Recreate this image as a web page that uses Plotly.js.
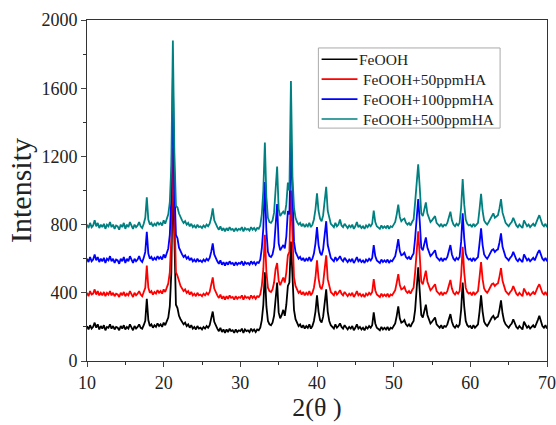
<!DOCTYPE html>
<html><head><meta charset="utf-8">
<script src="https://cdn.plot.ly/plotly-3.0.1.min.js"></script>
<style>html,body{margin:0;padding:0;background:#fff}#chart{width:556px;height:425px}</style>
</head><body><div id="chart"></div>
<script>
// 2θ grid: 10.0 to 70.0 in 0.2° steps
const xStart = 10, xStep = 0.2;
const seriesNames = ["FeOOH", "FeOOH+50ppmHA", "FeOOH+100ppmHA", "FeOOH+500ppmHA"];
const seriesColors = ["#000000", "#ff0000", "#0000ff", "#008080"];

const feooh = [
205,185,210,190,200, 225,195,215,185,205, 190,210,180,200,195, 215,190,205,185,200,
195,180,205,190,210, 185,200,190,215,195, 180,205,190,200,215, 195,190,210,235,365,
240,205,215,195,210, 200,220,205,215,200, 225,210,235,255,320, 520,1100,620,330,310,
265,245,230,215,225, 205,215,195,210,190, 200,185,205,190,195, 185,200,190,205,195,
210,245,290,230,205, 190,175,195,170,185, 165,185,170,190,175, 180,165,185,170,180,
175,190,165,185,175, 180,170,190,175,185, 170,185,180,195,240, 330,520,320,235,215,
210,225,265,350,460, 285,250,270,300,265, 330,440,460,700,480, 300,245,220,205,215,
195,210,190,205,195, 215,190,205,235,290, 385,290,240,225,260, 340,420,290,235,210,
200,190,215,195,205, 220,200,190,210,195, 185,200,190,205,180, 195,215,190,200,185,
195,180,200,190,205, 195,210,285,220,195, 190,180,200,185,195, 185,200,180,195,190,
205,220,265,320,250, 225,230,240,215,205, 215,200,220,235,300, 420,550,410,270,255,
290,330,270,240,220, 230,245,255,215,205, 195,210,190,205,200, 215,245,275,230,205,
195,210,200,215,300, 460,320,235,210,200, 205,190,210,195,205, 215,290,385,290,230,
215,205,220,240,255, 265,245,255,260,300, 355,280,235,215,205, 195,210,220,245,220,
200,190,205,195,185, 230,210,195,205,190, 200,210,195,225,240, 265,230,205,195,210,
190];

const feooh50 = [
400,380,410,390,395, 420,390,410,385,400, 385,405,380,400,390, 410,385,400,380,395,
390,375,400,385,405, 380,395,385,410,390, 375,400,385,395,410, 390,380,405,430,560,
430,400,410,390,405, 395,415,400,410,395, 420,405,430,455,520, 720,1250,800,520,500,
460,440,425,410,420, 400,410,390,405,385, 395,380,400,385,390, 380,395,385,400,390,
405,440,490,425,400, 385,370,390,365,380, 360,380,365,385,370, 375,360,380,365,375,
370,385,360,380,370, 375,365,385,370,380, 365,380,375,390,440, 540,740,520,430,410,
405,420,460,540,575, 470,445,465,490,460, 520,620,640,1000,680, 490,440,415,400,410,
390,405,385,400,390, 410,385,400,430,490, 590,485,435,420,455, 540,620,480,430,405,
395,385,410,390,400, 415,395,385,405,390, 380,395,385,400,375, 390,410,385,395,380,
390,375,395,385,400, 390,405,480,415,390, 385,375,395,380,390, 380,395,375,390,385,
400,415,460,510,445, 420,425,435,410,400, 410,395,415,430,520, 640,760,620,465,450,
490,530,465,435,415, 425,440,450,410,400, 390,405,385,400,395, 410,440,475,425,400,
390,405,395,410,500, 670,520,430,405,395, 400,385,405,390,400, 410,490,580,480,425,
410,400,415,435,450, 455,440,450,455,495, 545,470,430,410,400, 390,405,415,440,415,
395,385,400,390,380, 425,405,390,400,385, 395,405,390,420,435, 450,425,400,390,405,
385];

const feooh100 = [
600,580,610,585,595, 625,590,610,580,600, 585,605,575,600,590, 615,585,600,575,595,
590,570,600,585,610, 575,600,585,615,590, 575,600,585,595,615, 590,580,605,640,758,
630,600,610,590,605, 595,615,600,610,595, 625,605,635,660,740, 960,1660,1020,740,720,
665,640,625,610,620, 600,610,590,605,585, 595,580,600,585,590, 580,595,585,600,590,
605,640,690,625,600, 585,570,590,565,580, 560,580,565,585,570, 575,560,580,565,575,
570,585,560,580,570, 575,565,585,570,580, 565,580,575,595,660, 780,1050,760,640,615,
610,625,670,780,920, 690,650,665,680,660, 730,880,860,1280,900, 700,640,615,600,610,
590,605,585,600,590, 610,585,600,630,690, 785,680,635,620,655, 740,820,680,630,605,
595,585,610,590,600, 615,595,585,605,590, 580,595,585,600,575, 590,610,585,595,580,
590,575,595,585,600, 590,605,680,615,590, 585,575,595,580,590, 580,595,575,590,585,
600,615,660,715,645, 620,625,635,610,600, 610,595,615,630,720, 840,950,820,665,650,
690,725,665,635,615, 625,640,650,610,600, 590,605,585,600,595, 610,640,680,625,600,
590,605,595,610,700, 866,720,630,605,595, 600,585,605,590,600, 610,690,778,680,625,
610,600,615,635,650, 655,640,650,655,695, 749,670,630,610,600, 590,605,615,640,615,
595,585,600,590,580, 625,605,590,600,585, 595,605,590,620,635, 650,625,600,590,605,
585];

const feooh500 = [
800,780,810,785,795, 825,790,810,780,800, 785,805,775,800,790, 815,785,800,775,795,
790,770,800,785,810, 775,800,785,815,790, 775,800,785,795,815, 790,780,805,840,960,
830,800,810,790,805, 795,815,800,810,795, 825,805,835,860,930, 1150,1880,1220,910,900,
865,840,825,810,820, 800,810,790,805,785, 795,780,800,785,790, 780,795,785,800,790,
805,840,895,825,800, 785,770,790,765,780, 760,780,765,785,770, 775,760,780,765,775,
770,785,760,780,770, 775,765,785,770,780, 765,780,775,795,860, 1000,1282,960,840,815,
810,825,870,980,1140, 890,850,865,876,860, 920,1046,1000,1642,1080, 900,840,815,800,810,
790,805,785,800,790, 810,785,800,830,890, 983,880,835,820,855, 940,1022,880,830,805,
795,785,810,790,800, 830,795,785,805,790, 780,795,785,800,775, 790,815,785,795,780,
790,775,795,785,800, 790,805,882,815,790, 785,775,795,780,790, 780,795,775,790,785,
800,815,860,917,845, 820,830,835,810,800, 810,795,815,830,930, 1060,1153,1020,865,850,
890,930,865,835,815, 825,840,850,810,800, 790,805,785,800,795, 810,840,876,825,800,
790,805,795,810,900, 1067,920,830,805,795, 800,785,805,790,800, 810,890,980,880,825,
810,800,815,835,850, 866,840,850,855,895, 950,870,830,810,800, 790,805,815,840,815,
795,785,800,790,780, 825,805,790,800,785, 795,805,790,820,835, 855,825,800,790,805,
785];

const xTickVals = [10, 20, 30, 40, 50, 60, 70];
const yTickVals = [0, 400, 800, 1200, 1600, 2000];

const allY = [feooh, feooh50, feooh100, feooh500];
const traces = allY.map((ys, k) => ({
  type: "scatter", mode: "lines",
  x: ys.map((_, i) => +(xStart + i * xStep).toFixed(1)),
  y: ys, name: seriesNames[k], showlegend: false,
  line: {color: seriesColors[k], width: 1.8}
}));

const serif = "Times New Roman, Liberation Serif, serif";
// hand-built legend (box, sample lines, labels) in paper coordinates
const lg = {x0: 0.503, x1: 0.898, y0: 0.683, y1: 0.918, lineX0: 0.510, lineX1: 0.588, textX: 0.595, rowTop: 0.885, rowStep: 0.0585};
const shapes = [{type: "rect", xref: "paper", yref: "paper", x0: lg.x0, x1: lg.x1, y0: lg.y0, y1: lg.y1,
  line: {color: "#aaa", width: 1}, fillcolor: "rgba(0,0,0,0)"}];
const annotations = [];
seriesNames.forEach((nm, k) => {
  const yy = lg.rowTop - k * lg.rowStep;
  shapes.push({type: "line", xref: "paper", yref: "paper", x0: lg.lineX0, x1: lg.lineX1, y0: yy, y1: yy,
    line: {color: seriesColors[k], width: 1.6}});
  annotations.push({xref: "paper", yref: "paper", x: k === 0 ? lg.textX - 0.008 : lg.textX, y: yy,
    xanchor: "left", yanchor: "middle", showarrow: false, text: nm,
    font: {family: serif, size: 15.5, color: "#222"}});
});

const layout = {
  width: 556, height: 425,
  margin: {l: 87, r: 9, t: 20, b: 64},
  font: {family: serif, color: "#222"},
  paper_bgcolor: "#fff", plot_bgcolor: "#fff",
  showlegend: false, shapes: shapes, annotations: annotations,
  xaxis: {range: [10, 70], tickvals: xTickVals, ticks: "outside", ticklen: 5,
    minor: {dtick: 5, ticks: "outside", ticklen: 3, tickcolor: "#333"},
    showline: true, linecolor: "#333", linewidth: 1, mirror: true, showgrid: false, zeroline: false,
    tickfont: {family: serif, size: 18, color: "#222"},
    title: {text: "2(θ )", font: {family: serif, size: 26, color: "#222"}, standoff: 3}},
  yaxis: {range: [0, 2000], tickvals: yTickVals, ticks: "outside", ticklen: 5,
    minor: {dtick: 200, ticks: "outside", ticklen: 3, tickcolor: "#333"},
    showline: true, linecolor: "#333", linewidth: 1, mirror: true, showgrid: false, zeroline: false,
    tickfont: {family: serif, size: 18, color: "#222"},
    title: {text: "Intensity", font: {family: serif, size: 30, color: "#222"}, standoff: 0}}
};
Plotly.newPlot("chart", traces, layout, {displayModeBar: false, staticPlot: true});
</script></body></html>
